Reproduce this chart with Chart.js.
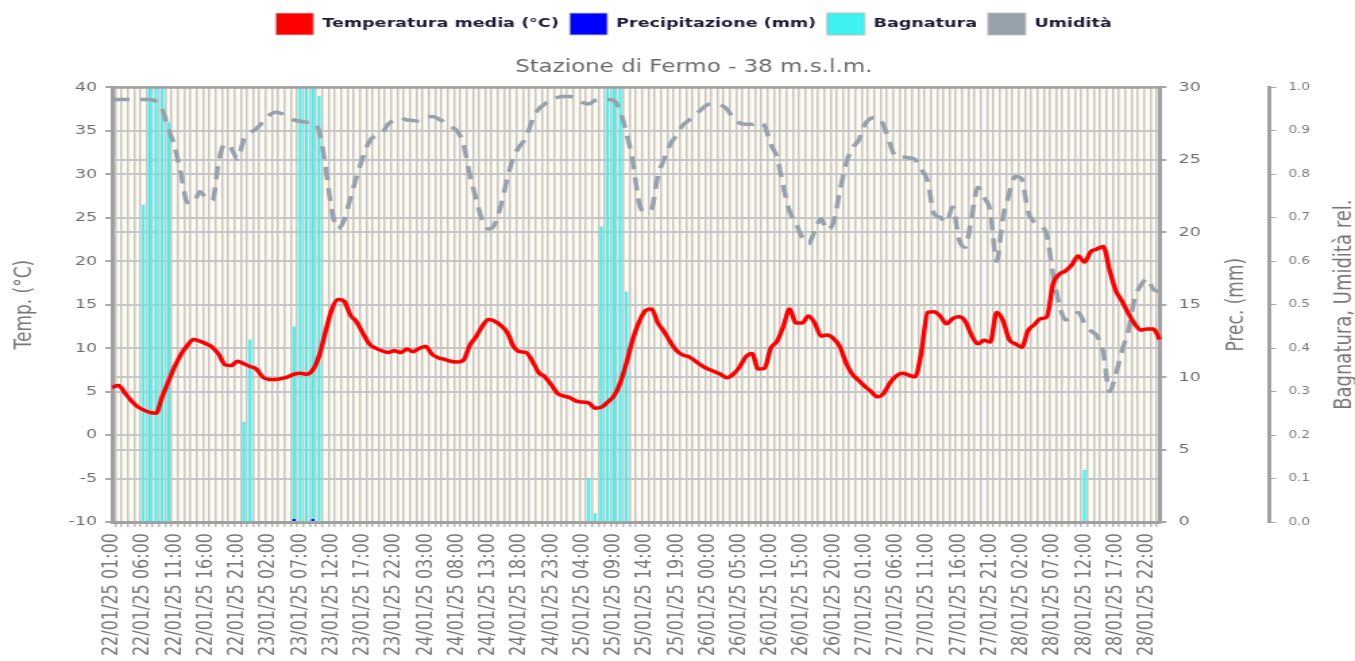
<!DOCTYPE html>
<html>
<head>
<meta charset="utf-8">
<script src="https://cdn.jsdelivr.net/npm/chart.js@4.4.1/dist/chart.umd.min.js"></script>
<style>
    body { margin: 0; background: #fff; overflow: hidden; }
    #wrap { width: 1355px; height: 661px; overflow: hidden; }
    #chart { transform: scaleX(1.3496); transform-origin: 0 0; }
</style>
</head>
<body>
<div id="wrap"><canvas id="chart" width="1004" height="661"></canvas></div>
<script>
// hourly readings, 22/01/25 01:00 -> 29/01/25 00:00
const days = ["22/01/25", "23/01/25", "24/01/25", "25/01/25", "26/01/25", "27/01/25", "28/01/25", "29/01/25"]
const firstHour = 1

const temperatura = [
    5.5, 5.7, 4.9, 4.0, 3.3, 2.9, 2.6, 2.5, 4.4, 6.2,
    7.9, 9.3, 10.3, 11.0, 10.8, 10.5, 10.1, 9.3, 8.1, 8.0,
    8.5, 8.2, 7.9, 7.6, 6.7, 6.4, 6.4, 6.5, 6.7, 7.0,
    7.1, 7.0, 7.5, 9.1, 11.8, 14.4, 15.6, 15.4, 13.8, 13.0,
    11.7, 10.5, 10.0, 9.7, 9.5, 9.7, 9.5, 9.9, 9.6, 10.0,
    10.2, 9.3, 8.9, 8.7, 8.5, 8.4, 8.6, 10.3, 11.3, 12.5,
    13.3, 13.1, 12.6, 11.8, 10.2, 9.6, 9.5, 8.5, 7.2, 6.7,
    5.8, 4.8, 4.5, 4.3, 3.9, 3.8, 3.7, 3.1, 3.2, 3.8,
    4.5, 6.0, 8.3, 11.0, 13.0, 14.3, 14.5, 12.9, 11.9, 10.7,
    9.7, 9.2, 9.0, 8.5, 8.0, 7.6, 7.3, 7.0, 6.6, 7.0,
    7.8, 9.0, 9.4, 7.6, 7.7, 10.0, 10.8, 12.5, 14.5, 12.9,
    12.9, 13.7, 12.9, 11.4, 11.5, 11.1, 10.2, 8.3, 7.0, 6.3,
    5.6, 5.0, 4.4, 4.8, 6.0, 6.8, 7.1, 6.9, 6.7, 9.5,
    14.1, 14.2, 13.7, 12.8, 13.4, 13.6, 13.1, 11.5, 10.5, 10.9,
    10.7, 14.1, 13.2, 11.0, 10.5, 10.1, 12.0, 12.7, 13.4, 13.6,
    17.4, 18.5, 18.9, 19.6, 20.6, 19.9, 21.1, 21.4, 21.7, 19.0,
    16.6, 15.4, 14.0, 12.8, 12.1, 12.2, 12.2, 11.0
]

const precipitazione = [
    0, 0, 0, 0, 0, 0, 0, 0, 0, 0,
    0, 0, 0, 0, 0, 0, 0, 0, 0, 0,
    0, 0, 0, 0, 0, 0, 0, 0, 0, 0.2,
    0, 0, 0.2, 0, 0, 0, 0, 0, 0, 0,
    0, 0, 0, 0, 0, 0, 0, 0, 0, 0,
    0, 0, 0, 0, 0, 0, 0, 0, 0, 0,
    0, 0, 0, 0, 0, 0, 0, 0, 0, 0,
    0, 0, 0, 0, 0, 0, 0, 0, 0, 0,
    0, 0, 0, 0, 0, 0, 0, 0, 0, 0,
    0, 0, 0, 0, 0, 0, 0, 0, 0, 0,
    0, 0, 0, 0, 0, 0, 0, 0, 0, 0,
    0, 0, 0, 0, 0, 0, 0, 0, 0, 0,
    0, 0, 0, 0, 0, 0, 0, 0, 0, 0,
    0, 0, 0, 0, 0, 0, 0, 0, 0, 0,
    0, 0, 0, 0, 0, 0, 0, 0, 0, 0,
    0, 0, 0, 0, 0, 0, 0, 0, 0, 0,
    0, 0, 0, 0, 0, 0, 0, 0
]

const bagnatura = [
    0, 0, 0, 0, 0, 0.73, 1.0, 1.0, 1.0, 0.92,
    0, 0, 0, 0, 0, 0, 0, 0, 0, 0,
    0, 0.23, 0.42, 0, 0, 0, 0, 0, 0, 0.45,
    1.0, 1.0, 1.0, 0.98, 0, 0, 0, 0, 0, 0,
    0, 0, 0, 0, 0, 0, 0, 0, 0, 0,
    0, 0, 0, 0, 0, 0, 0, 0, 0, 0,
    0, 0, 0, 0, 0, 0, 0, 0, 0, 0,
    0, 0, 0, 0, 0, 0, 0.1, 0.02, 0.68, 1.0,
    1.0, 1.0, 0.53, 0, 0, 0, 0, 0, 0, 0,
    0, 0, 0, 0, 0, 0, 0, 0, 0, 0,
    0, 0, 0, 0, 0, 0, 0, 0, 0, 0,
    0, 0, 0, 0, 0, 0, 0, 0, 0, 0,
    0, 0, 0, 0, 0, 0, 0, 0, 0, 0,
    0, 0, 0, 0, 0, 0, 0, 0, 0, 0,
    0, 0, 0, 0, 0, 0, 0, 0, 0, 0,
    0, 0, 0, 0, 0, 0.12, 0, 0, 0, 0,
    0, 0, 0, 0, 0, 0, 0, 0
]

const umidita = [
    0.972, 0.972, 0.972, 0.972, 0.972, 0.972, 0.972, 0.968, 0.95, 0.905,
    0.862, 0.8, 0.735, 0.735, 0.76, 0.745, 0.74, 0.83, 0.87, 0.86,
    0.835, 0.88, 0.895, 0.905, 0.92, 0.935, 0.943, 0.94, 0.93, 0.925,
    0.922, 0.92, 0.92, 0.9, 0.82, 0.72, 0.675, 0.695, 0.745, 0.795,
    0.84, 0.875, 0.89, 0.895, 0.915, 0.925, 0.93, 0.925, 0.924, 0.922,
    0.93, 0.933, 0.928, 0.92, 0.91, 0.9, 0.87, 0.8, 0.745, 0.695,
    0.674, 0.685, 0.73, 0.79, 0.84, 0.865, 0.885, 0.925, 0.95, 0.962,
    0.972, 0.977, 0.979, 0.979, 0.975, 0.965, 0.962, 0.97, 0.972, 0.972,
    0.97, 0.945, 0.895, 0.83, 0.735, 0.713, 0.72, 0.795, 0.835, 0.87,
    0.89, 0.913, 0.925, 0.937, 0.95, 0.961, 0.962, 0.96, 0.95, 0.93,
    0.918, 0.915, 0.915, 0.92, 0.912, 0.869, 0.839, 0.772, 0.715, 0.688,
    0.655, 0.64, 0.67, 0.698, 0.672, 0.69, 0.76, 0.825, 0.86, 0.878,
    0.915, 0.929, 0.931, 0.912, 0.87, 0.84, 0.84, 0.838, 0.834, 0.812,
    0.785, 0.71, 0.701, 0.69, 0.725, 0.65, 0.632, 0.7, 0.77, 0.747,
    0.715, 0.6, 0.7, 0.755, 0.795, 0.79, 0.715, 0.69, 0.682, 0.66,
    0.57, 0.5, 0.465, 0.47, 0.482, 0.458, 0.44, 0.428, 0.39, 0.3,
    0.34, 0.395, 0.44, 0.515, 0.545, 0.56, 0.535, 0.53
]

// category labels "dd/mm/yy hh:00", one per hour
const labels = temperatura.map((_, i) => {
    const h = firstHour + i
    return days[Math.floor(h / 24)] + " " + String(h % 24).padStart(2, "0") + ":00"
})

const FONT = "DejaVu Sans"
const GRID = "#c6c6c6"
const AXIS = "#a0a0a0"

Chart.defaults.font.family = FONT
Chart.defaults.color = "#707070"

/**
 * Cream plot background, darker top border and the rotated axis titles
 */
const plotDecor = {
    id: "plotDecor",
    beforeDraw: (chart) => {
        const {ctx, chartArea: a} = chart
        ctx.save()
        ctx.fillStyle = "#fdfaef"
        ctx.fillRect(a.left, a.top, a.right - a.left, a.bottom - a.top)
        ctx.restore()
    },
    afterDraw: (chart) => {
        const {ctx, chartArea: a, scales} = chart
        ctx.save()
        ctx.strokeStyle = AXIS
        ctx.lineWidth = 2.5
        ctx.beginPath()
        ctx.moveTo(a.left, a.top)
        ctx.lineTo(a.right, a.top)
        ctx.stroke()

        const midY = (a.top + a.bottom) / 2
        const titles = [
            ["Temp. (°C)", 18.5, 17],
            ["Prec. (mm)", scales.prec.left + 57, 17],
            ["Bagnatura, Umidità rel.", scales.bag.right - 8, 18]
        ]
        ctx.fillStyle = "#777"
        ctx.textAlign = "center"
        ctx.textBaseline = "middle"
        titles.forEach(([text, x, size]) => {
            ctx.save()
            ctx.translate(x, midY)
            ctx.rotate(-Math.PI / 2)
            ctx.font = size + "px '" + FONT + "'"
            ctx.fillText(text, 0, 0)
            ctx.restore()
        })
        ctx.restore()
    }
}

new Chart(document.getElementById("chart"), {
    data: {
        labels: labels,
        datasets: [{
            type: "line",
            label: "Temperatura media (°C)",
            data: temperatura,
            yAxisID: "y",
            borderColor: "#ff0000",
            backgroundColor: "#ff0000",
            borderWidth: 3.5,
            pointRadius: 0,
            cubicInterpolationMode: "monotone",
            order: 0
        }, {
            type: "bar",
            label: "Precipitazione (mm)",
            data: precipitazione,
            yAxisID: "prec",
            backgroundColor: "#0000ff",
            maxBarThickness: 2.2,
            grouped: false,
            order: 2
        }, {
            type: "bar",
            label: "Bagnatura",
            data: bagnatura,
            yAxisID: "bag",
            backgroundColor: "#3ff2f2",
            maxBarThickness: 2.2,
            grouped: false,
            order: 3
        }, {
            type: "line",
            label: "Umidità",
            data: umidita,
            yAxisID: "bag",
            borderColor: "#97a1ac",
            backgroundColor: "#97a1ac",
            borderWidth: 3.5,
            borderDash: [13, 8],
            pointRadius: 0,
            cubicInterpolationMode: "monotone",
            order: 1
        }]
    },
    options: {
        responsive: false,
        animation: false,
        layout: {
            padding: {left: 24, right: 0, top: 5, bottom: 0}
        },
        plugins: {
            legend: {
                position: "top",
                weight: 1000,
                labels: {
                    boxWidth: 28,
                    boxHeight: 22,
                    padding: 8,
                    color: "#1c1c36",
                    font: {size: 13, weight: "bold"},
                    sort: (a, b) => a.datasetIndex - b.datasetIndex,
                    generateLabels: (chart) => {
                        const items = Chart.defaults.plugins.legend.labels.generateLabels(chart)
                        items.forEach(it => {
                            it.lineWidth = 1
                            it.strokeStyle = "#c0c0c0"
                            it.lineDash = []
                        })
                        return items
                    }
                }
            },
            title: {
                display: true,
                weight: 500,
                text: "Stazione di Fermo - 38 m.s.l.m.",
                color: "#6a6a6a",
                font: {size: 17, weight: "normal"},
                padding: {top: 12, bottom: 10}
            },
            tooltip: {enabled: false}
        },
        scales: {
            x: {
                type: "category",
                offset: false,
                afterFit: (scale) => { scale.height = 139 },
                grid: {offset: true, color: GRID, lineWidth: 1.5, tickLength: 5, tickColor: "#b8b8b8"},
                border: {color: AXIS, width: 3},
                ticks: {
                    autoSkip: false,
                    minRotation: 90,
                    maxRotation: 90,
                    padding: 6,
                    color: "#767676",
                    font: {size: 16},
                    callback: function (value, index) {
                        return index % 5 === 0 ? this.getLabelForValue(value) : ""
                    }
                }
            },
            y: {
                position: "left",
                min: -10,
                max: 40,
                afterFit: (scale) => { scale.width = 59 },
                grid: {color: GRID, lineWidth: 2, tickLength: 5, tickColor: "#a8a8a8"},
                border: {color: AXIS, width: 3},
                ticks: {stepSize: 5, padding: 6, color: "#6e6e6e", font: {size: 13}}
            },
            prec: {
                position: "right",
                min: 0,
                max: 30,
                afterFit: (scale) => { scale.width = 81.4 },
                grid: {color: GRID, lineWidth: 2, tickLength: 5, tickColor: "#a8a8a8"},
                border: {color: AXIS, width: 3},
                ticks: {stepSize: 5, padding: 9, color: "#6e6e6e", font: {size: 13}}
            },
            bag: {
                position: "right",
                min: 0,
                max: 1,
                afterFit: (scale) => { scale.width = 63.3 },
                grid: {drawOnChartArea: false, tickLength: 5, tickColor: "#a8a8a8"},
                border: {color: AXIS, width: 3},
                ticks: {
                    stepSize: 0.1,
                    padding: 9,
                    color: "#7a7a7a",
                    font: {size: 10},
                    callback: (v) => v.toFixed(1)
                }
            }
        }
    },
    plugins: [plotDecor]
})
</script>
</body>
</html>
